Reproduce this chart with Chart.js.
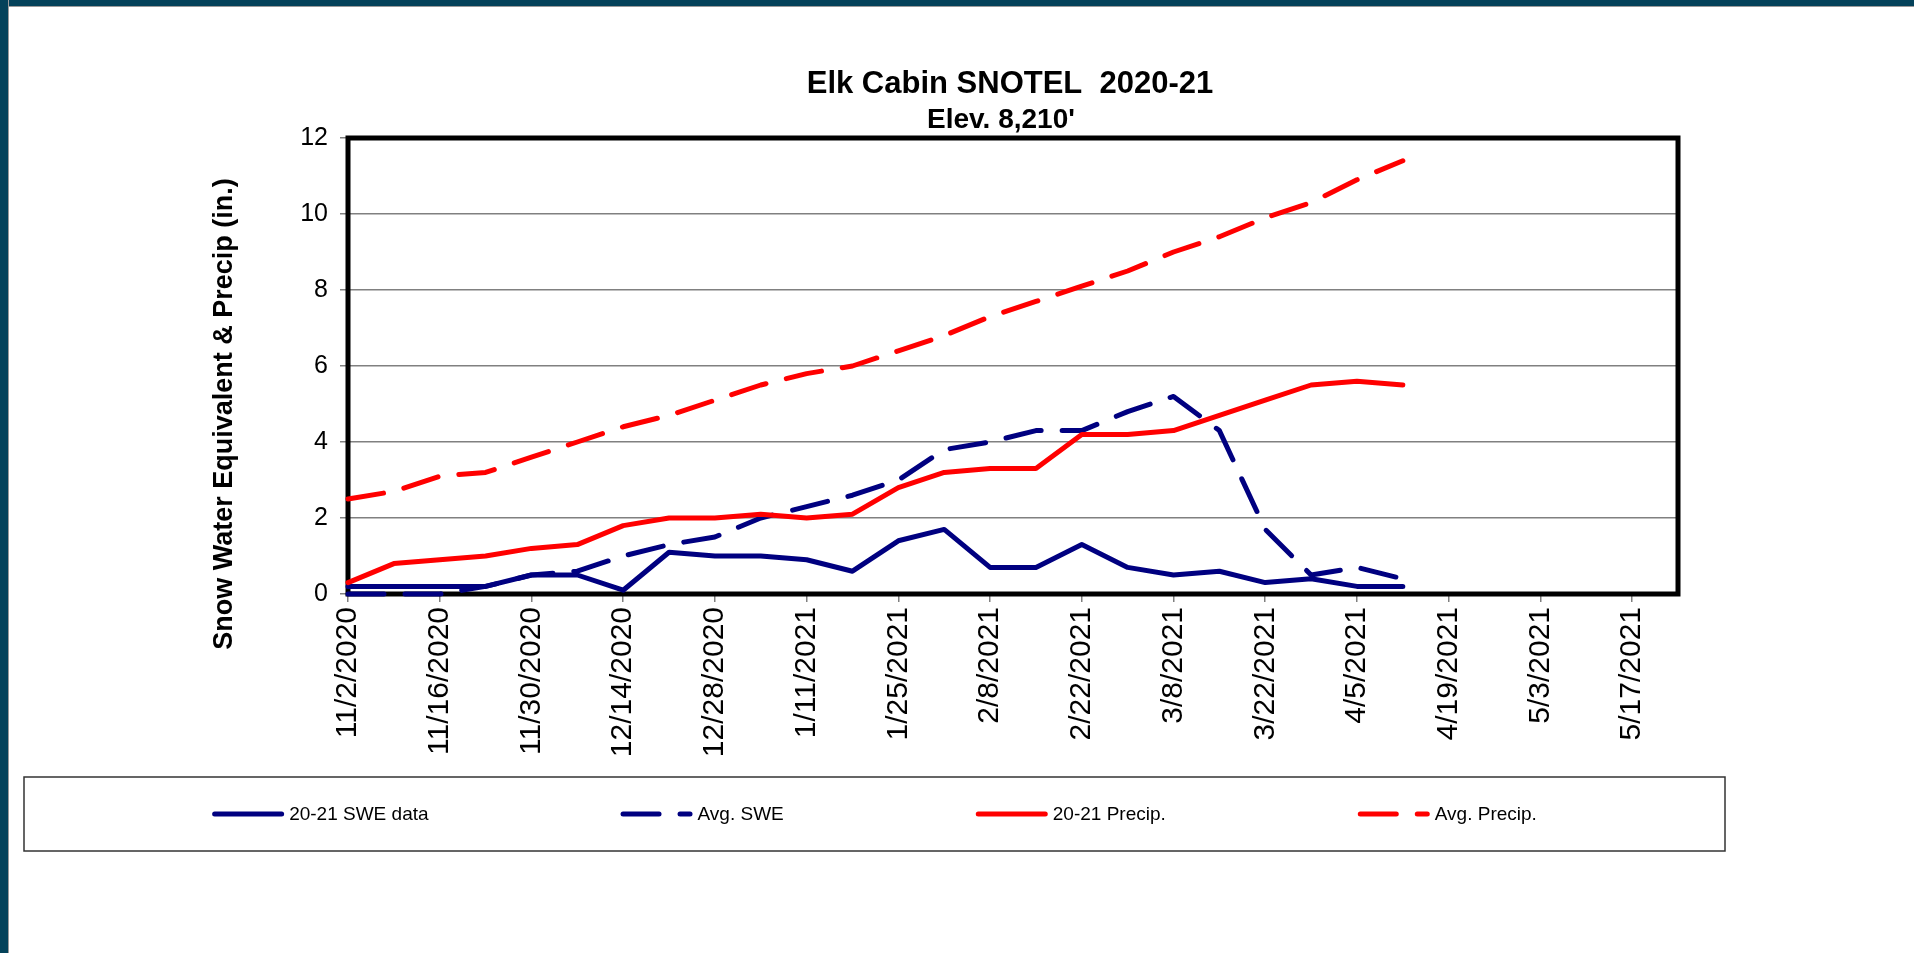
<!DOCTYPE html>
<html>
<head>
<meta charset="utf-8">
<title>Elk Cabin SNOTEL 2020-21</title>
<script src="https://cdn.jsdelivr.net/npm/chart.js@4.4.1/dist/chart.umd.min.js"></script>
<style>
  html, body { margin: 0; padding: 0; background: #fff; }
  body { width: 1914px; height: 953px; position: relative; overflow: hidden; }
  .band-top { position: absolute; left: 0; top: 0; width: 1914px; height: 6px; background: #04425a; border-bottom: 1px solid #9a9a9a; }
  .band-left { position: absolute; left: 0; top: 0; width: 8px; height: 953px; background: #04425a; border-right: 1px solid #9a9a9a; }
  #chart { position: absolute; left: 0; top: 0; }
</style>
</head>
<body>
<div class="band-top"></div>
<div class="band-left"></div>
<canvas id="chart" width="1914" height="953"></canvas>
<script>
const titleLines = ['Elk Cabin SNOTEL  2020-21', "Elev. 8,210'"];
const yTitle = 'Snow Water Equivalent & Precip (in.)';

const weeks = ['11/2/2020', '11/9/2020', '11/16/2020', '11/23/2020', '11/30/2020', '12/7/2020',
  '12/14/2020', '12/21/2020', '12/28/2020', '1/4/2021', '1/11/2021', '1/18/2021', '1/25/2021',
  '2/1/2021', '2/8/2021', '2/15/2021', '2/22/2021', '3/1/2021', '3/8/2021', '3/15/2021',
  '3/22/2021', '3/29/2021', '4/5/2021', '4/12/2021'];
const xTickLabels = ['11/2/2020', '11/16/2020', '11/30/2020', '12/14/2020', '12/28/2020', '1/11/2021',
  '1/25/2021', '2/8/2021', '2/22/2021', '3/8/2021', '3/22/2021', '4/5/2021', '4/19/2021',
  '5/3/2021', '5/17/2021'];
const axisEnd = '5/24/2021';

const sweData   = [0.2, 0.2, 0.2, 0.2, 0.5, 0.5, 0.1, 1.1, 1.0, 1.0, 0.9, 0.6, 1.4, 1.7, 0.7, 0.7, 1.3, 0.7, 0.5, 0.6, 0.3, 0.4, 0.2, 0.2];
const avgSwe    = [0, 0, 0, 0.2, 0.5, 0.6, 1.0, 1.3, 1.5, 2.0, 2.3, 2.6, 3.0, 3.8, 4.0, 4.3, 4.3, 4.8, 5.2, 4.3, 1.7, 0.5, 0.7, 0.4];
const precip    = [0.3, 0.8, 0.9, 1.0, 1.2, 1.3, 1.8, 2.0, 2.0, 2.1, 2.0, 2.1, 2.8, 3.2, 3.3, 3.3, 4.2, 4.2, 4.3, 4.7, 5.1, 5.5, 5.6, 5.5];
const avgPrecip = [2.5, 2.7, 3.1, 3.2, 3.6, 4.0, 4.4, 4.7, 5.1, 5.5, 5.8, 6.0, 6.4, 6.8, 7.3, 7.7, 8.1, 8.5, 9.0, 9.4, 9.9, 10.3, 10.9, 11.4];

const NAVY = '#000080';
const RED = '#ff0000';
const FONT = "'Liberation Sans', Arial, sans-serif";
const DASH = [36, 21];

// days since the first week
const start = new Date(weeks[0]);
const dayOf = (d) => Math.round((new Date(d) - start) / 86400000);
const points = (vals) => vals.map((v, i) => ({x: dayOf(weeks[i]), y: v}));

const decorations = {
  id: 'decorations',
  beforeDatasetsDraw(chart) {
    const {ctx, chartArea: a} = chart;
    ctx.save();
    ctx.strokeStyle = '#000';
    ctx.lineWidth = 5;
    ctx.strokeRect(a.left, a.top, a.right - a.left, a.bottom - a.top);
    ctx.restore();
  },
  afterDraw(chart) {
    const ctx = chart.ctx;
    ctx.save();
    ctx.fillStyle = '#000';
    ctx.textAlign = 'center';
    ctx.textBaseline = 'alphabetic';
    ctx.font = `bold 31px ${FONT}`;
    ctx.fillText(titleLines[0], 1010, 93);
    ctx.font = `bold 28px ${FONT}`;
    ctx.fillText(titleLines[1], 1001, 128);
    ctx.font = `bold 27px ${FONT}`;
    ctx.translate(232, 414);
    ctx.rotate(-Math.PI / 2);
    ctx.fillText(yTitle, 0, 0);
    ctx.restore();

    // legend box
    const box = {left: 24, top: 777, right: 1725, bottom: 851};
    ctx.save();
    ctx.strokeStyle = '#333';
    ctx.lineWidth = 1.5;
    ctx.strokeRect(box.left, box.top, box.right - box.left, box.bottom - box.top);
    ctx.font = `19px ${FONT}`;
    const sample = 72, gapText = 5, gapItem = 192;
    const items = chart.data.datasets.map(ds => ({ds, w: sample + gapText + ctx.measureText(ds.label).width}));
    const total = items.reduce((s, it) => s + it.w, 0) + gapItem * (items.length - 1);
    let x = (box.left + box.right) / 2 - total / 2;
    const y = (box.top + box.bottom) / 2;
    items.forEach(({ds, w}) => {
      ctx.strokeStyle = ds.borderColor;
      ctx.lineWidth = 5;
      ctx.lineCap = 'round';
      ctx.setLineDash(ds.borderDash || []);
      ctx.beginPath();
      ctx.moveTo(x + 2.5, y);
      ctx.lineTo(x + sample - 2.5, y);
      ctx.stroke();
      ctx.setLineDash([]);
      ctx.fillStyle = '#000';
      ctx.textAlign = 'left';
      ctx.textBaseline = 'middle';
      ctx.fillText(ds.label, x + sample + gapText, y + 1);
      x += w + gapItem;
    });
    ctx.restore();
  }
};

const line = (label, vals, color, dashed, order) => ({
  label: label,
  data: points(vals),
  borderColor: color,
  backgroundColor: color,
  borderWidth: 5,
  borderDash: dashed ? DASH : [],
  borderCapStyle: 'round',
  borderJoinStyle: 'round',
  pointRadius: 0,
  tension: 0,
  fill: false,
  clip: false,
  order: order
});

const ctx = document.getElementById('chart').getContext('2d');
const chart = new Chart(ctx, {
  type: 'line',
  data: {
    datasets: [
      line('20-21 SWE data', sweData, NAVY, false, 4),
      line('Avg. SWE', avgSwe, NAVY, true, 3),
      line('20-21 Precip.', precip, RED, false, 2),
      line('Avg. Precip.', avgPrecip, RED, true, 1)
    ]
  },
  options: {
    responsive: false,
    animation: false,
    devicePixelRatio: 1,
    layout: {
      padding: {left: 288, right: 236, top: 138, bottom: 159}
    },
    plugins: {
      legend: {display: false},
      title: {display: false},
      tooltip: {enabled: false}
    },
    scales: {
      x: {
        type: 'linear',
        min: 0,
        max: dayOf(axisEnd),
        afterBuildTicks: (scale) => {
          scale.ticks = xTickLabels.map(d => ({value: dayOf(d)}));
        },
        afterFit: (scale) => { scale.height = 200; },
        border: {display: false},
        grid: {
          drawOnChartArea: false,
          drawTicks: true,
          tickLength: 8,
          color: '#808080',
          lineWidth: 1.5
        },
        ticks: {
          autoSkip: false,
          maxRotation: 90,
          minRotation: 90,
          padding: 5,
          color: '#000',
          font: {family: FONT, size: 30},
          callback: (value, i) => xTickLabels[i]
        }
      },
      y: {
        type: 'linear',
        min: 0,
        max: 12,
        afterFit: (scale) => { scale.width = 60; },
        border: {display: false},
        grid: {
          color: '#808080',
          lineWidth: 1.5,
          tickLength: 8
        },
        ticks: {
          stepSize: 2,
          padding: 12,
          color: '#000',
          font: {family: FONT, size: 25}
        }
      }
    }
  },
  plugins: [decorations]
});
</script>
</body>
</html>
